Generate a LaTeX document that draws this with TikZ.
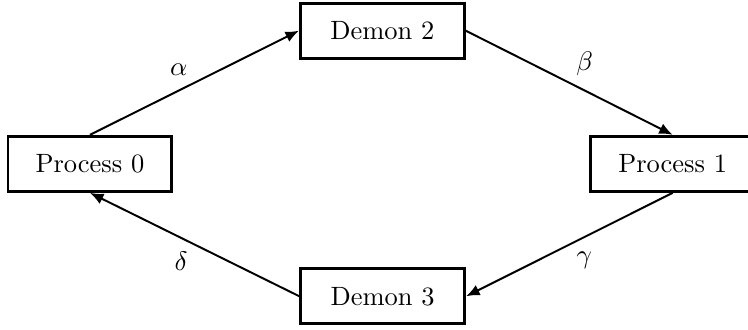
\documentclass[tikz,border=0pt]{standalone}
\usepackage{amsmath}
\usetikzlibrary{arrows.meta}
\tikzset{>={Latex[length=5.5pt, width=4.6pt]}}
\tikzset{box/.style={draw, very thick, minimum width=2.35cm, minimum height=0.79cm}}

\begin{document}
\begin{tikzpicture}[font=\fontsize{10.8pt}{13pt}\selectfont]
    \useasboundingbox (0,0) rectangle (10.73,4.72);
    \node[box] (P0) at (1.29,2.37) {Process 0};
    \node[box] (P1) at (9.65,2.37) {Process 1};
    \node[box] (D2) at (5.485,4.28) {Demon 2};
    \node[box] (D3) at (5.49,0.47) {Demon 3};
    \draw[thick, ->] (P0.north) -- (D2.west) node [midway, above left, inner sep=2.5pt] {$\alpha$};
    \draw[thick, ->] (D2.east) -- (P1.north) node [midway, above right, inner sep=2.5pt] {$\beta$};
    \draw[thick, ->] (P1.south) -- (D3.east) node [midway, below right, inner sep=2.5pt] {$\gamma$};
    \draw[thick, ->] (D3.west) -- (P0.south) node [midway, below left, inner sep=2.5pt] {$\delta$};
\end{tikzpicture}
\end{document}
